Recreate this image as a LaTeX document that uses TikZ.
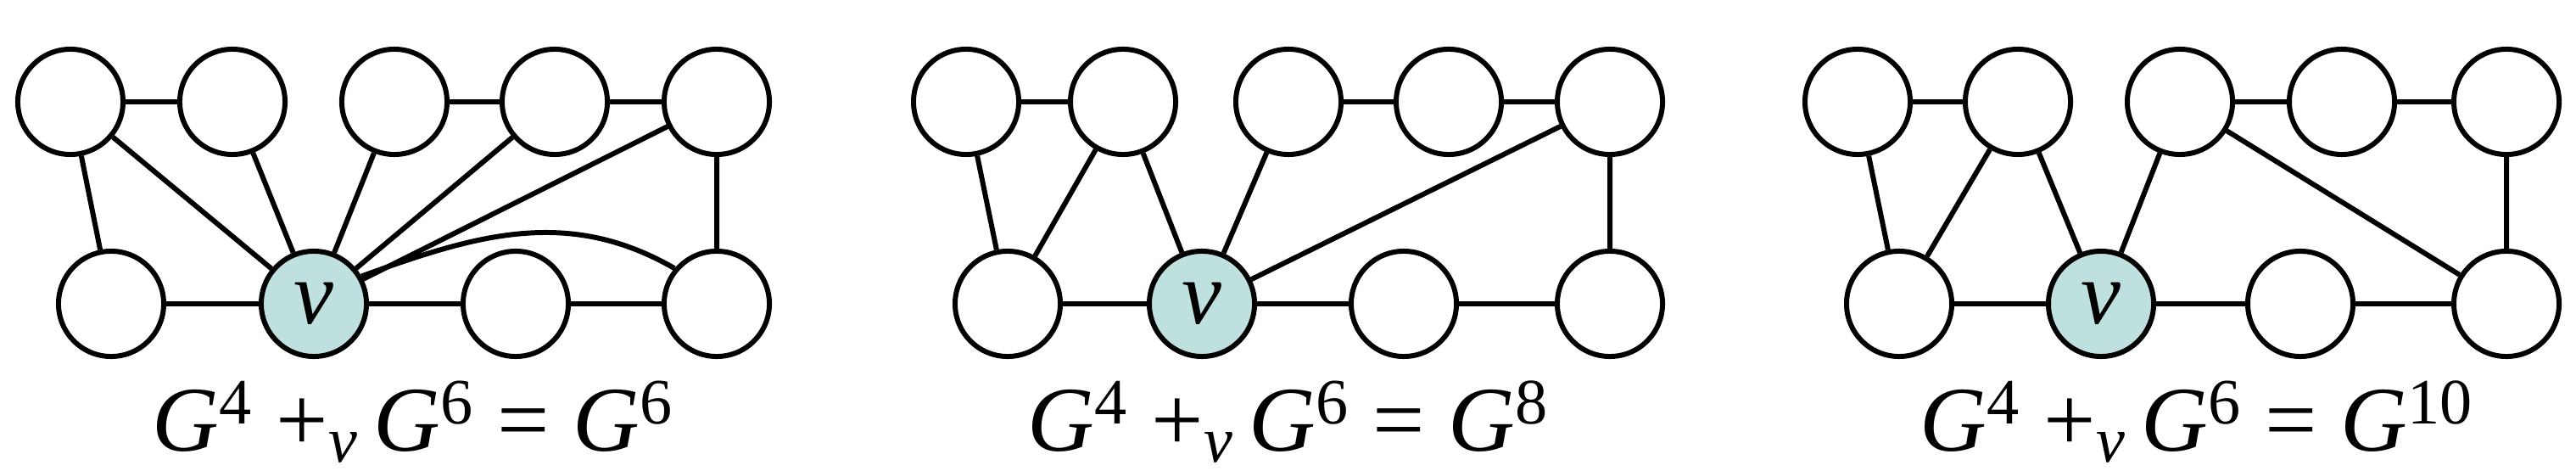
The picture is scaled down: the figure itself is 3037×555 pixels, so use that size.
\documentclass[tikz,border=0pt]{standalone}
\usepackage{fontspec}
\setmainfont{Liberation Serif}
\definecolor{vfill}{RGB}{190,224,222}
\newcommand{\gs}[1]{\textit{G}\textsuperscript{#1}}
\begin{document}
\begin{tikzpicture}[x=0.01cm,y=-0.01cm,
  vtx/.style={circle,draw,line width=1.7pt,minimum size=1.24cm,inner sep=0pt,fill=white},
  vv/.style={vtx,fill=vfill,font=\fontsize{30}{30}\selectfont\itshape},
  every path/.style={line width=1.7pt},
  lab/.style={font=\fontsize{31}{31}\selectfont}]
\useasboundingbox (0,0) rectangle (3037,555);
% graph 1
\foreach \n/\x in {a/83,b/274,c/465,d/654,e/845} \node[vtx] (1\n) at (\x,120) {};
\node[vtx] (1f) at (131,358) {};
\node[vv] (1v) at (370,358) {v};
\node[vtx] (1g) at (608,358) {};
\node[vtx] (1h) at (845,358) {};
\draw (1a)--(1b) (1c)--(1d) (1d)--(1e) (1a)--(1f) (1a)--(1v) (1b)--(1v) (1c)--(1v) (1d)--(1v) (1e)--(1v) (1e)--(1h) (1f)--(1v) (1v)--(1g) (1g)--(1h);
\draw (1v.30) to[out=20,in=150] (1h.140);
\node[lab] (l1) at (487,497) {\gs{4} +\textsubscript{\textit{v}}\,\gs{6} = \gs{6}};
% graph 2
\foreach \n/\x in {a/1139,b/1324,c/1519,d/1708,e/1898} \node[vtx] (2\n) at (\x,120) {};
\node[vtx] (2f) at (1188,358) {};
\node[vv] (2v) at (1417,358) {v};
\node[vtx] (2g) at (1655,358) {};
\node[vtx] (2h) at (1898,358) {};
\draw (2a)--(2b) (2c)--(2d) (2d)--(2e) (2a)--(2f) (2b)--(2f) (2b)--(2v) (2c)--(2v) (2e)--(2v) (2e)--(2h) (2f)--(2v) (2v)--(2g) (2g)--(2h);
\node[lab] (l2) at (1519,497) {\gs{4} +\textsubscript{\textit{v}}\,\gs{6} = \gs{8}};
% graph 3
\foreach \n/\x in {a/2190,b/2379,c/2570,d/2761,e/2955} \node[vtx] (3\n) at (\x,120) {};
\node[vtx] (3f) at (2239,358) {};
\node[vv] (3v) at (2477,358) {v};
\node[vtx] (3g) at (2712,358) {};
\node[vtx] (3h) at (2955,358) {};
\draw (3a)--(3b) (3c)--(3d) (3d)--(3e) (3a)--(3f) (3b)--(3f) (3b)--(3v) (3c)--(3v) (3c)--(3h) (3e)--(3h) (3f)--(3v) (3v)--(3g) (3g)--(3h);
\node[lab] (l3) at (2590,497) {\gs{4} +\textsubscript{\textit{v}}\,\gs{6} = \gs{10}};
\end{tikzpicture}
\end{document}
